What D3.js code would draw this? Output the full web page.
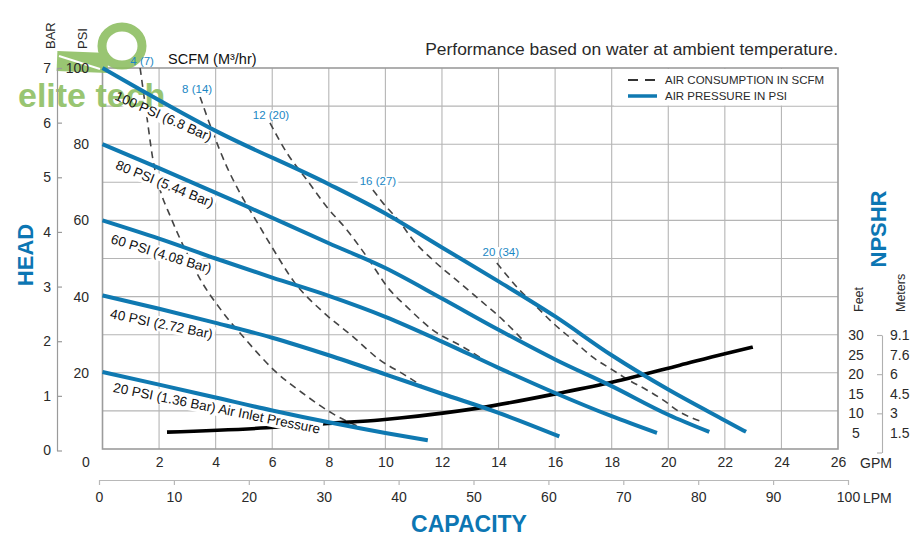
<!DOCTYPE html>
<html><head><meta charset="utf-8">
<script src="https://cdn.jsdelivr.net/npm/d3@7"></script>
<style>
body{margin:0;background:#fff;}
svg{display:block;font-family:"Liberation Sans",Arial,Helvetica,sans-serif;}
</style></head><body>
<svg id="chart" width="920" height="550"></svg>
<script>
// ---------------- DATA ----------------
const gpmTicks = [0,2,4,6,8,10,12,14,16,18,20,22,24,26];
const lpmTicks = [0,10,20,30,40,50,60,70,80,90,100];
const psiTicks = [20,40,60,80,100];
const psiGrid = [10,20,30,40,50,60,70,80,90];
const barTicks = [0,1,2,3,4,5,6,7];
const feetTicks = [30,25,20,15,10,5];
const meterLabels = ["9.1","7.6","6","4.5","3","1.5"];
const bracketTicks = [30,20,10,0];

const pressureNames = ["100 PSI (6.8 Bar)","80 PSI (5.44 Bar)","60 PSI (4.08 Bar)","40 PSI (2.72 Bar)","20 PSI (1.36 Bar) Air Inlet Pressure"];
// [GPM, PSI]
const psi100 = [[0,100],[4,83.5],[8,69.5],[10,61.8],[12,52.9],[14,44.0],[16,34.8],[18,24.6],[20,15.6],[22,7.5],[22.75,4.5]];
const psi80  = [[0,80],[2,73.7],[5,64],[8,54],[10,47.5],[12,39.5],[14,31.3],[16,23.5],[18,16.5],[20,9],[21.45,4.5]];
const psi60  = [[0,60],[2,55.2],[4,50],[6,45],[8,40.2],[10,34.7],[12,28.2],[14,21.3],[16,14.7],[18,8.6],[19.6,4.2]];
const psi40  = [[0,40.3],[2,36.8],[4,33.1],[6,29.2],[8,24.6],[10,19.6],[12,14.5],[14,9.5],[16.15,3.3]];
const psi20  = [[0,20.2],[2,16.9],[4,13.5],[6,10.1],[8,7],[10,4.2],[11.5,2.3]];

const scfmNames = ["4 (7)","8 (14)","12 (20)","16 (27)","20 (34)"];
const scfm4  = [[1.33,100],[1.57,87.1],[1.78,76.1],[2.03,68.2],[2.39,61.2],[2.91,52.5],[3.45,44.6],[4.22,36.2],[5.04,28.9],[6.09,20.5],[7.16,14.2],[8.11,9.4],[9.17,5.5]];
const scfm8  = [[3.45,92.4],[3.91,82.9],[4.4,74.0],[4.86,67.2],[5.42,60.1],[5.99,53.0],[6.8,43.6],[7.76,36.2],[8.82,29.7],[9.8,23.4],[10.69,19.4],[11.57,15.2]];
const scfm12 = [[5.92,85.6],[6.52,77.7],[7.23,70.6],[7.93,63.5],[8.64,57.5],[9.35,50.4],[10.16,41.7],[10.76,37.3],[11.68,31.2],[12.74,26.8],[13.34,24.1]];
const scfm16 = [[9.56,68.0],[9.91,64.6],[10.51,59.6],[10.97,54.9],[11.68,49.6],[12.63,43.6],[13.34,39.1],[14.15,33.9],[14.86,28.6]];
const scfm20 = [[13.94,48.8],[14.75,41.7],[15.35,37.3],[15.92,33.1],[16.63,28.6],[17.33,24.1],[18.04,20.7],[18.53,18.4],[19.24,15.5],[19.81,12.9],[20.41,9.7],[21.22,7.1]];

// NPSHR [GPM, feet]
const npshrFeet = [[2.28,5.2],[5.81,6.3],[8.14,7.5],[9.8,8.3],[10.51,8.8],[13.34,11.4],[16.17,15.2],[18.04,18.0],[20.41,22.3],[21.93,25.1],[22.99,26.9]];

// ---------------- LAYOUT ----------------
const pressureSeries = [psi100,psi80,psi60,psi40,psi20];
const scfmSeries = [scfm4,scfm8,scfm12,scfm16,scfm20];
const pressureLabelLayout = [{dx:13.5,dy:27,rot:24},{dx:14,dy:20,rot:22},{dx:9,dy:18,rot:17},{dx:8,dy:18,rot:11.5},{dx:11,dy:15,rot:11.5}];
const scfmLabelLayout = [{dx:2,dy:-7},{dx:-3,dy:-8},{dx:1,dy:-8},{dx:5,dy:-8.5},{dx:4,dy:-11}];

const BLUE = "#0f79b1", LABELBLUE = "#1b87c4", TITLEBLUE = "#0c76b3", GRID = "#b5b5b5", TXT = "#2a2a2a";
const GREEN = "#8fbf63";

const svg = d3.select("#chart");
svg.append("rect").attr("width",920).attr("height",550).attr("fill","#fff");

const X0 = 102.5, X1 = 838, Y0 = 449, Y1 = 68;
const x = d3.scaleLinear().domain([0,26]).range([X0,X1]);
const y = d3.scaleLinear().domain([0,100]).range([Y0,Y1]);
const yBar = d3.scaleLinear().domain([0,7]).range([450.5,68]);
const xL = d3.scaleLinear().domain([0,100]).range([99,848]);
const yFt = d3.scaleLinear().domain([0,30]).range([452.5,335]);

// grid
const grid = svg.append("g").attr("stroke",GRID).attr("stroke-width",1.1);
grid.selectAll("line.v").data(gpmTicks.slice(1,-1)).join("line").attr("class","v")
  .attr("x1",d=>x(d)).attr("x2",d=>x(d)).attr("y1",Y1).attr("y2",Y0);
grid.selectAll("line.h").data(psiGrid).join("line").attr("class","h")
  .attr("x1",X0).attr("x2",X1).attr("y1",d=>y(d)).attr("y2",d=>y(d));
svg.append("rect").attr("x",X0).attr("y",Y1).attr("width",X1-X0).attr("height",Y0-Y1)
  .attr("fill","none").attr("stroke","#9c9c9c").attr("stroke-width",1.6);

// legend background
svg.append("rect").attr("x",614).attr("y",69).attr("width",223).attr("height",36.5).attr("fill","#fff");

// air consumption dashed curves
const line = d3.line().x(d=>x(d[0])).y(d=>y(d[1])).curve(d3.curveMonotoneX);
svg.append("g").selectAll("path").data(scfmSeries).join("path")
  .attr("d",line).attr("fill","none").attr("stroke","#444").attr("stroke-width",1.6).attr("stroke-dasharray","7,5");

// NPSHR curve
const lineFt = d3.line().x(d=>x(d[0])).y(d=>yFt(d[1])).curve(d3.curveMonotoneX);
svg.append("path").datum(npshrFeet).attr("d",lineFt).attr("fill","none").attr("stroke","#000").attr("stroke-width",3.6);

// label background layer, logo, then label texts
const bgLayer = svg.append("g");
const logo = svg.append("g").attr("opacity",0.9);
const pLayer = svg.append("g").attr("font-size",13.5).attr("fill","#111");
const sLayer = svg.append("g").attr("font-size",11.5).attr("fill",LABELBLUE).attr("text-anchor","middle");

// logo watermark
logo.append("path").attr("d","M57,61 L108,63").attr("stroke",GREEN).attr("stroke-width",20).attr("fill","none");
logo.append("path").attr("d","M59,56 L100,69").attr("stroke","#fff").attr("stroke-width",2).attr("fill","none");
logo.append("ellipse").attr("cx",122).attr("cy",46).attr("rx",20).attr("ry",19)
  .attr("stroke",GREEN).attr("stroke-width",9).attr("fill","none");
logo.append("text").attr("x",18).attr("y",107).attr("font-size",34).attr("font-weight","bold")
  .attr("fill",GREEN).text("elite tech");

// pressure labels
pressureSeries.forEach((s,i)=>{
  const L = pressureLabelLayout[i];
  const tr = `translate(${x(s[0][0])+L.dx},${y(s[0][1])+L.dy}) rotate(${L.rot})`;
  const t = pLayer.append("text").attr("transform",tr).attr("dy","0.35em").text(pressureNames[i]);
  const b = t.node().getBBox();
  bgLayer.append("rect").attr("transform",tr).attr("x",b.x-2).attr("y",b.y).attr("width",b.width+4).attr("height",b.height).attr("fill","#fff");
});

// scfm labels
scfmSeries.forEach((s,i)=>{
  const L = scfmLabelLayout[i];
  const tr = `translate(${x(s[0][0])+L.dx},${y(s[0][1])+L.dy})`;
  const t = sLayer.append("text").attr("transform",tr).attr("dy","0.35em").text(scfmNames[i]);
  const b = t.node().getBBox();
  bgLayer.append("rect").attr("transform",tr).attr("x",b.x-2).attr("y",b.y+1).attr("width",b.width+4).attr("height",b.height-2).attr("fill","#fff");
});

// pressure curves
svg.append("g").selectAll("path").data(pressureSeries).join("path")
  .attr("d",line).attr("fill","none").attr("stroke",BLUE).attr("stroke-width",4);

// legend
const lg = svg.append("g").attr("font-size",11.5).attr("fill",TXT);
lg.append("line").attr("x1",628).attr("x2",656).attr("y1",80).attr("y2",80).attr("stroke","#333").attr("stroke-width",2).attr("stroke-dasharray","10,7");
lg.append("line").attr("x1",628).attr("x2",657).attr("y1",96).attr("y2",96).attr("stroke",BLUE).attr("stroke-width",3.5);
lg.append("text").attr("x",665).attr("y",80).attr("dy","0.35em").text("AIR CONSUMPTION IN SCFM");
lg.append("text").attr("x",665).attr("y",96).attr("dy","0.35em").text("AIR PRESSURE IN PSI");

// axes
function styleAxis(g){ g.selectAll("text").attr("fill",TXT).attr("font-family","'Liberation Sans',Arial,sans-serif"); }

// BAR axis
const barAxis = svg.append("g").attr("transform","translate(57,0)")
  .call(d3.axisLeft(yBar).tickValues(barTicks).tickSizeInner(-5).tickSizeOuter(0).tickPadding(6).tickFormat(d3.format("d")));
barAxis.selectAll("path,line").attr("stroke","#9a9a9a").attr("stroke-width",1.2);
barAxis.selectAll("text").attr("font-size",14);
styleAxis(barAxis);

// PSI axis labels
const psiAxis = svg.append("g").attr("transform","translate(90,0)")
  .call(d3.axisLeft(y).tickValues(psiTicks).tickSize(0).tickPadding(1));
psiAxis.select(".domain").remove();
psiAxis.selectAll("text").attr("font-size",14);
styleAxis(psiAxis);

// GPM axis
const gpmAxis = svg.append("g").attr("transform",`translate(0,${Y0})`)
  .call(d3.axisBottom(x).tickValues(gpmTicks).tickSize(0).tickPadding(8));
gpmAxis.select(".domain").remove();
gpmAxis.selectAll("text").attr("font-size",14);
gpmAxis.selectAll(".tick").filter(d=>d===0).select("text").attr("x",-17);
styleAxis(gpmAxis);
svg.append("text").attr("x",860).attr("y",463).attr("dy","0.35em").attr("font-size",14).attr("fill",TXT).text("GPM");

// LPM axis
const lpmAxis = svg.append("g").attr("transform","translate(0,480)")
  .call(d3.axisBottom(xL).tickValues(lpmTicks).tickSizeInner(5).tickSizeOuter(0).tickPadding(7));
lpmAxis.selectAll("path,line").attr("stroke","#b8b8b8").attr("stroke-width",1.2);
lpmAxis.selectAll("text").attr("font-size",14);
styleAxis(lpmAxis);
svg.append("text").attr("x",xL(100)+15).attr("y",498).attr("dy","0.35em").attr("font-size",14).attr("fill",TXT).text("LPM");

// Feet labels
const ftAxis = svg.append("g").attr("transform","translate(856,0)")
  .call(d3.axisRight(yFt).tickValues(feetTicks).tickSize(0).tickPadding(0));
ftAxis.select(".domain").remove();
ftAxis.selectAll("text").attr("font-size",14).attr("text-anchor","middle");
styleAxis(ftAxis);

// Meters bracket
const bracket = svg.append("g").attr("transform","translate(882,0)")
  .call(d3.axisLeft(yFt).tickValues(bracketTicks).tickSizeInner(5).tickSizeOuter(0).tickFormat(""));
bracket.selectAll("path,line").attr("stroke","#b0b0b0").attr("stroke-width",1.1);
const mAxis = svg.append("g").attr("transform","translate(882,0)")
  .call(d3.axisRight(yFt).tickValues(feetTicks).tickSize(0).tickPadding(8).tickFormat((d,i)=>meterLabels[i]));
mAxis.select(".domain").remove();
mAxis.selectAll("text").attr("font-size",14);
styleAxis(mAxis);

// rotated axis titles
function vtext(xp,yp,txt,size,opts={}){
  const t = svg.append("text").attr("transform",`translate(${xp},${yp}) rotate(-90)`)
    .attr("font-size",size).attr("fill",opts.fill||TXT).attr("text-anchor",opts.anchor||"start")
    .text(txt);
  if(opts.bold) t.attr("font-weight","bold");
  return t;
}
vtext(55,49,"BAR",13);
vtext(87,49,"PSI",13);
vtext(33,255,"HEAD",22,{fill:TITLEBLUE,anchor:"middle",bold:true});
vtext(886,229,"NPSHR",22,{fill:TITLEBLUE,anchor:"middle",bold:true});
vtext(863,312,"Feet",12.5);
vtext(905,312,"Meters",12.5);

// titles
svg.append("text").attr("x",838).attr("y",55).attr("text-anchor","end").attr("font-size",17.4).attr("fill",TXT)
  .text("Performance based on water at ambient temperature.");
svg.append("text").attr("x",168).attr("y",64).attr("font-size",14.5).attr("fill","#111").text("SCFM (M³/hr)");
svg.append("text").attr("x",469).attr("y",532).attr("text-anchor","middle").attr("font-size",23).attr("font-weight","bold")
  .attr("fill",TITLEBLUE).text("CAPACITY");
</script>
</body></html>
